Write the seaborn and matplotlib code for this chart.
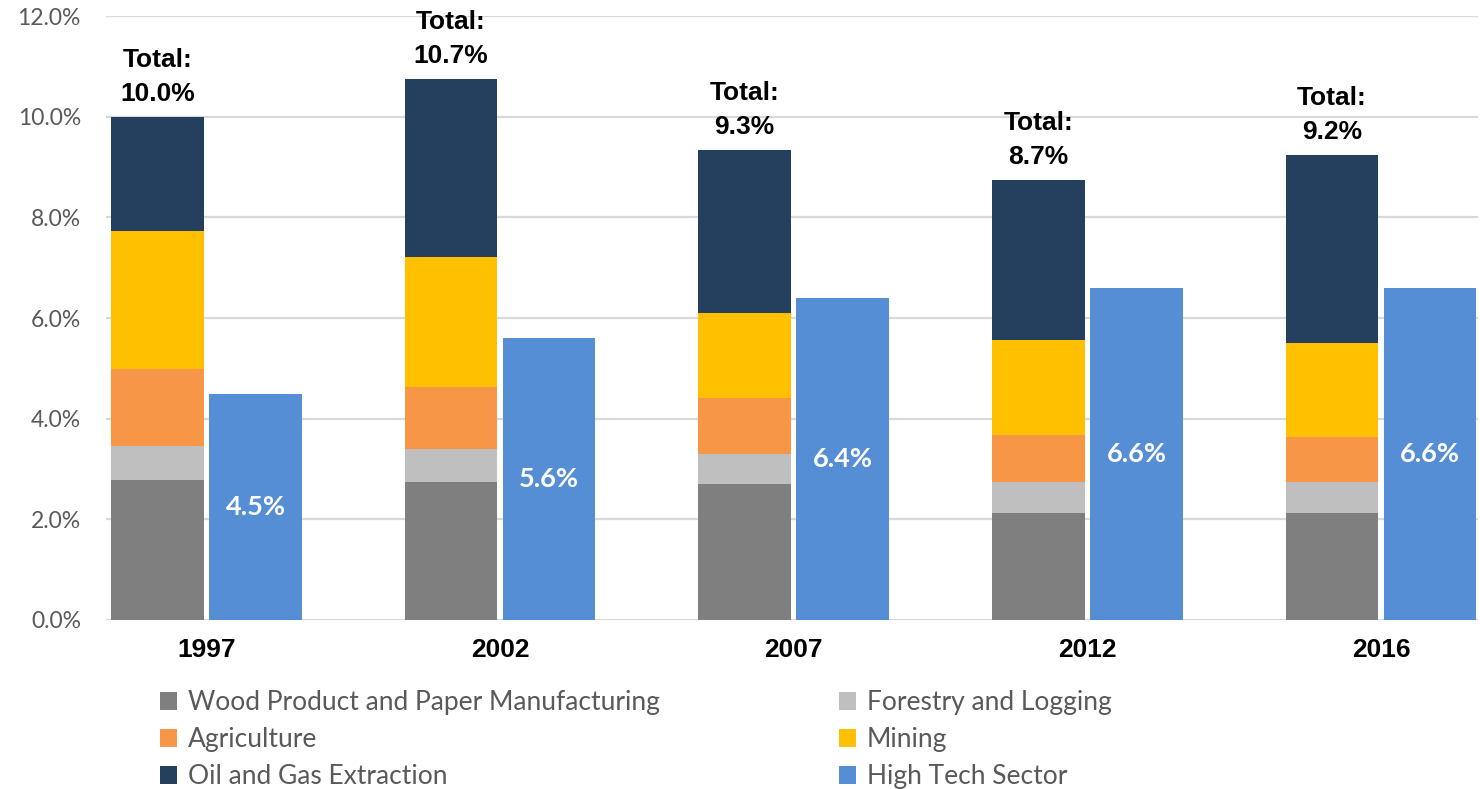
import numpy as np
import pandas as pd
import matplotlib
matplotlib.use("Agg")
import matplotlib.pyplot as plt
import seaborn as sns
from matplotlib.patches import Patch

# ---- data (percent) ----
years = ["1997", "2002", "2007", "2012", "2016"]
wood = [2.78, 2.74, 2.70, 2.13, 2.13]
forestry = [0.68, 0.66, 0.60, 0.61, 0.61]
agriculture = [1.53, 1.23, 1.11, 0.94, 0.90]
mining = [2.74, 2.58, 1.69, 1.88, 1.86]
oil_gas = [2.27, 3.54, 3.24, 3.18, 3.74]
high_tech = [4.5, 5.6, 6.4, 6.6, 6.6]
totals = [10.0, 10.7, 9.3, 8.7, 9.2]
y_ticks = [0, 2, 4, 6, 8, 10, 12]

layer_names = ["Wood Product and Paper Manufacturing", "Forestry and Logging",
               "Agriculture", "Mining", "Oil and Gas Extraction"]
layer_vals = [wood, forestry, agriculture, mining, oil_gas]
layer_colors = ["#7f7f7f", "#bfbfbf", "#f79646", "#ffc000", "#253f5f"]
ht_name = "High Tech Sector"
ht_color = "#558ed5"

sns.set_theme(style="white")
plt.rcParams['font.family'] = ['Liberation Sans', 'DejaVu Sans']

fig = plt.figure(figsize=(14.8, 7.89), dpi=100)
ax = fig.add_axes([0.0716, 0.2142, 0.9270, 0.7655])

idx = np.arange(len(years))
off = 0.167
bw = 0.316
stack_x = idx - off
ht_x = idx + off

cum = np.cumsum(np.array(layer_vals), axis=0)
df = pd.DataFrame({"x": stack_x})
for k in range(len(layer_vals) - 1, -1, -1):
    df["y"] = cum[k]
    sns.barplot(data=df, x="x", y="y", native_scale=True, width=bw,
                color=layer_colors[k], saturation=1, linewidth=0,
                errorbar=None, ax=ax, zorder=3)

dfh = pd.DataFrame({"x": ht_x, "y": high_tech})
sns.barplot(data=dfh, x="x", y="y", native_scale=True, width=bw,
            color=ht_color, saturation=1, linewidth=0, errorbar=None,
            ax=ax, zorder=3)

ax.set_xlim(-0.342, 4.33)
ax.set_ylim(0, 12)
ax.set_yticks(y_ticks)
ax.set_yticklabels([f"{v:.1f}%" for v in y_ticks], fontsize=16.5,
                   color="#595959", family=["Lato", "DejaVu Sans"])
ax.set_xticks(idx)
ax.set_xticklabels(years, fontsize=19, fontweight="bold", color="black")
ax.tick_params(axis="x", length=0, pad=13)
ax.tick_params(axis="y", length=0, pad=18)
ax.set_xlabel("")
ax.set_ylabel("")
for s in ax.spines.values():
    s.set_visible(False)
ax.yaxis.grid(True, color="#d9d9d9", linewidth=1.6, zorder=0)
ax.xaxis.grid(False)
ax.set_axisbelow(True)

# total labels
for i, t in enumerate(totals):
    ax.annotate(f"Total:\n{t:.1f}%", xy=(stack_x[i], cum[-1][i]),
                xytext=(0, 8), textcoords="offset points", ha="center",
                va="bottom", fontsize=19, fontweight="bold", color="black",
                linespacing=1.5, multialignment="center")
# high tech labels
for i, v in enumerate(high_tech):
    ax.text(ht_x[i], v / 2, f"{v:.1f}%", ha="center", va="center",
            fontsize=19.5, fontweight="bold", color="white",
            family=["Lato", "DejaVu Sans"], zorder=5)

# legend (row-wise order)
handles = {n: Patch(facecolor=c, edgecolor="none") for n, c in zip(layer_names, layer_colors)}
handles[ht_name] = Patch(facecolor=ht_color, edgecolor="none")
order = ["Wood Product and Paper Manufacturing", "Agriculture", "Oil and Gas Extraction",
         "Forestry and Logging", "Mining", ht_name]
leg = fig.legend([handles[n] for n in order], order, ncol=2, loc="upper left",
                 bbox_to_anchor=(0.108, 0.125), frameon=False,
                 prop={"family": ["Lato", "DejaVu Sans"], "size": 19},
                 handlelength=0.65, handleheight=0.65, handletextpad=0.4,
                 labelspacing=0.45, columnspacing=6.8, borderaxespad=0,
                 borderpad=0)
for txt in leg.get_texts():
    txt.set_color("#595959")

fig.savefig("out.png", dpi=100)
